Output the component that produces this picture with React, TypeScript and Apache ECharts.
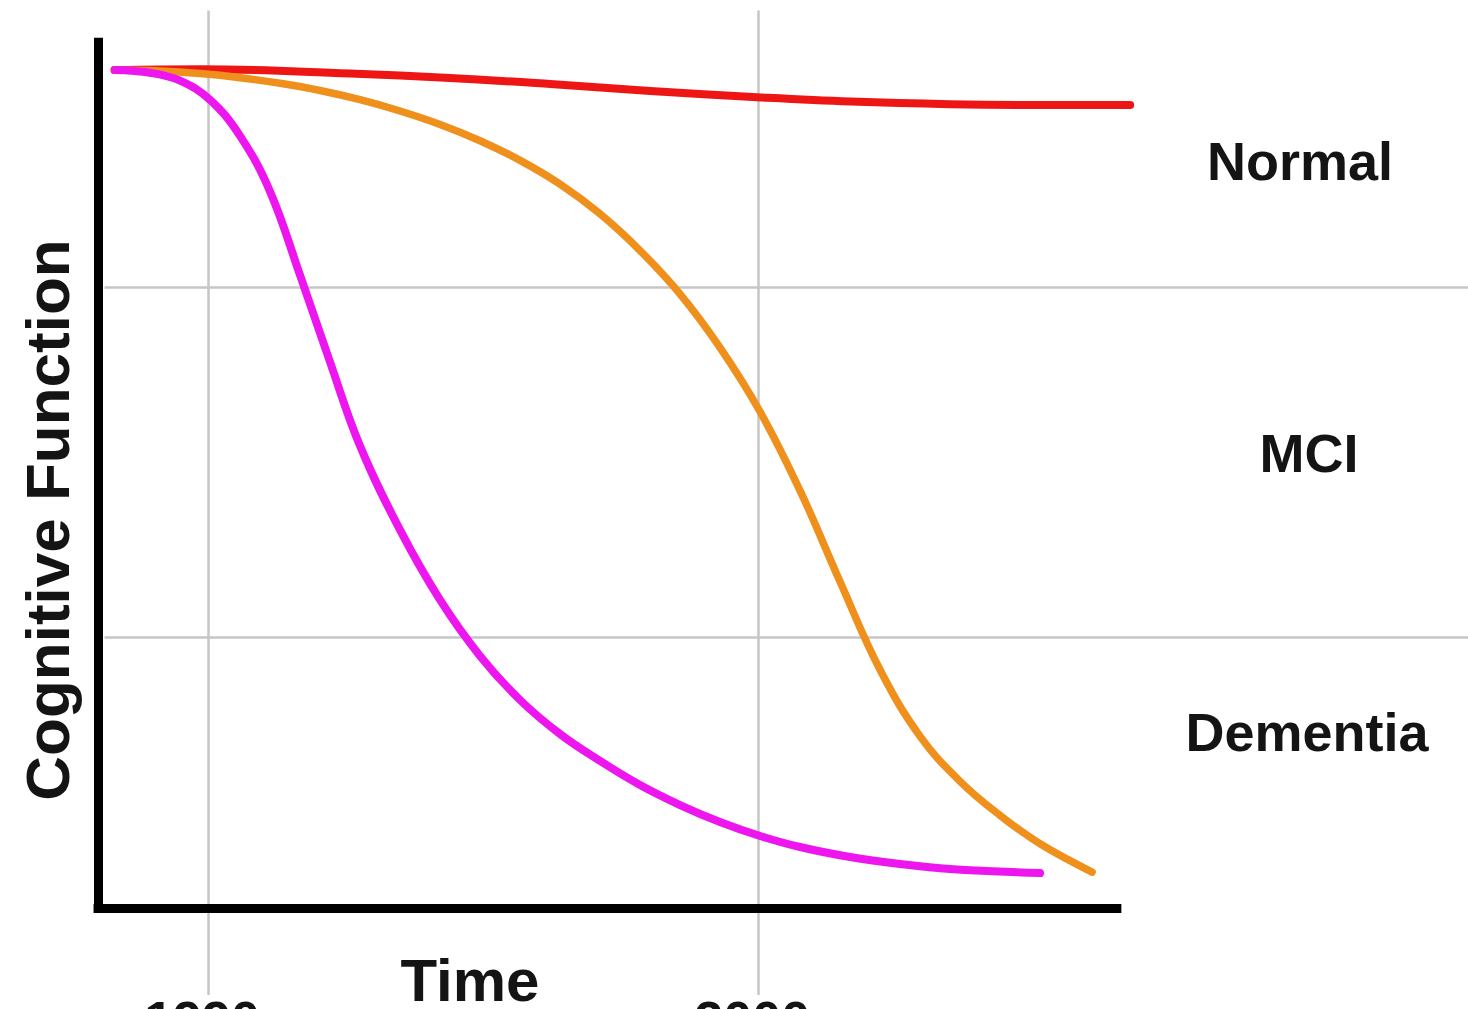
import React, { useEffect, useRef } from "react";
import * as echarts from "echarts";

// Axis ranges (time units / cognitive-function units)
const X_MIN = -8.9;
const X_MAX = 124.5;
const Y_MIN = -12.5;
const Y_MAX = 102.8;

// Curves: [time, cognitive function]
const normalCurve: number[][] = [
  [1.5, 94.8], [9.3, 94.9], [22.9, 94.4], [32.0, 93.9], [41.1, 93.2],
  [50.2, 92.4], [59.9, 91.7], [68.4, 91.2], [77.4, 90.9], [86.5, 90.8], [93.8, 90.8],
];
const mciCurve: number[][] = [
  [1.55, 94.8], [5.64, 94.69], [9.28, 94.39], [12.91, 93.92], [16.55, 93.28], [20.18, 92.46],
  [23.82, 91.41], [27.45, 90.12], [31.09, 88.58], [34.72, 86.72], [38.36, 84.47], [41.99, 81.75],
  [45.63, 78.35], [49.26, 74.17], [52.9, 69.2], [56.53, 63.08], [60.17, 55.75], [63.8, 46.74],
  [67.44, 36.32], [71.07, 26.26], [74.71, 18.66], [78.34, 13.52], [81.98, 9.62], [85.61, 6.38],
  [90.34, 3.15],
];
const dementiaCurve: number[][] = [
  [1.55, 94.8], [4.73, 94.49], [7.46, 93.59], [10.18, 91.4], [12.91, 87.28], [15.64, 80.91],
  [18.36, 71.38], [21.09, 61.43], [23.82, 51.83], [27.45, 42.24], [31.09, 34.24], [34.72, 27.84],
  [38.36, 22.81], [41.99, 18.92], [45.63, 15.84], [49.26, 13.1], [52.9, 10.81], [56.53, 8.87],
  [60.17, 7.27], [63.8, 6.01], [68.35, 4.87], [72.89, 4.07], [77.43, 3.5], [85.61, 3.04],
];

// Reference lines
const timeTicks = [10, 60];
const timeTickLabels = ["1990", "2000"];
const levelBounds = [30, 70];
const zoneLabels = ["Normal", "MCI", "Dementia"];

const FONT = '"Liberation Sans", Arial, Helvetica, sans-serif';

export default function App() {
  const ref = useRef<HTMLDivElement>(null);

  useEffect(() => {
    if (!ref.current) return;
    const chart = echarts.init(ref.current, undefined, { renderer: "svg" });

    const gridLineStyle = { color: "#c6c6c6", width: 2.5, type: "solid" as const };
    const axisLineStyle = { color: "#000000", width: 9, type: "solid" as const };

    const gridMarks: any[] = [];
    timeTicks.forEach((t) => {
      gridMarks.push([
        { coord: [t, -10.9], lineStyle: gridLineStyle },
        { coord: [t, 101.6] },
      ]);
    });
    levelBounds.forEach((v) => {
      gridMarks.push([
        { coord: [0.6, v], lineStyle: gridLineStyle },
        { coord: [X_MAX, v] },
      ]);
    });

    const axisMarks: any[] = [
      [{ coord: [0, -1.5], lineStyle: axisLineStyle }, { coord: [0, 98.5] }],
      [{ coord: [-0.4, -1], lineStyle: axisLineStyle }, { coord: [93.0, -1] }],
    ];

    const curve = (name: string, data: number[][], color: string, width: number) => ({
      name,
      type: "line",
      data,
      smooth: 0.4,
      showSymbol: false,
      symbol: "none",
      z: 3,
      lineStyle: { color, width, cap: "round", join: "round" },
      silent: true,
    });

    chart.setOption({
      animation: false,
      backgroundColor: "#ffffff",
      grid: { left: 0, right: 0, top: 0, bottom: 0 },
      xAxis: {
        type: "value",
        min: X_MIN,
        max: X_MAX,
        show: false,
        splitLine: { show: false },
      },
      yAxis: {
        type: "value",
        min: Y_MIN,
        max: Y_MAX,
        show: false,
        splitLine: { show: false },
      },
      series: [
        {
          name: "grid",
          type: "line",
          data: [],
          z: 1,
          markLine: {
            silent: true,
            symbol: ["none", "none"],
            label: { show: false },
            z: 1,
            data: gridMarks,
          },
        },
        curve("Normal", normalCurve, "#ee1515", 8),
        curve("MCI", mciCurve, "#f0901c", 7.5),
        curve("Dementia", dementiaCurve, "#ee16ee", 8),
        {
          name: "axes",
          type: "line",
          data: [],
          z: 10,
          markLine: {
            silent: true,
            symbol: ["none", "none"],
            label: { show: false },
            z: 10,
            data: axisMarks,
          },
        },
      ],
    });

    const textStyle = (text: string, size: number) => ({
      text,
      fill: "#141414",
      font: `bold ${size}px ${FONT}`,
      textAlign: "center",
      textVerticalAlign: "middle",
    });

    const zoneY = [161, 453, 732];
    const zoneX = [1300, 1309, 1307];
    const graphics: any[] = zoneLabels.map((label, i) => ({
      type: "text",
      x: zoneX[i],
      y: zoneY[i],
      style: textStyle(label, 54),
      z: 20,
    }));
    graphics.push({
      type: "text",
      x: 47,
      y: 520,
      rotation: Math.PI / 2,
      style: textStyle("Cognitive Function", 62),
      z: 20,
    });
    graphics.push({
      type: "text",
      x: 470,
      y: 980,
      style: textStyle("Time", 60),
      z: 20,
    });
    timeTicks.forEach((t, i) => {
      const p = chart.convertToPixel({ gridIndex: 0 }, [t, 0]) as number[];
      graphics.push({
        type: "text",
        x: p[0] - 6,
        y: 1020,
        style: textStyle(timeTickLabels[i], 52),
        z: 20,
      });
    });

    chart.setOption({ graphic: graphics });

    return () => chart.dispose();
  }, []);

  return (
    <div
      ref={ref}
      style={{ position: "absolute", left: 0, top: 0, width: 1468, height: 1009, background: "#fff" }}
    />
  );
}
